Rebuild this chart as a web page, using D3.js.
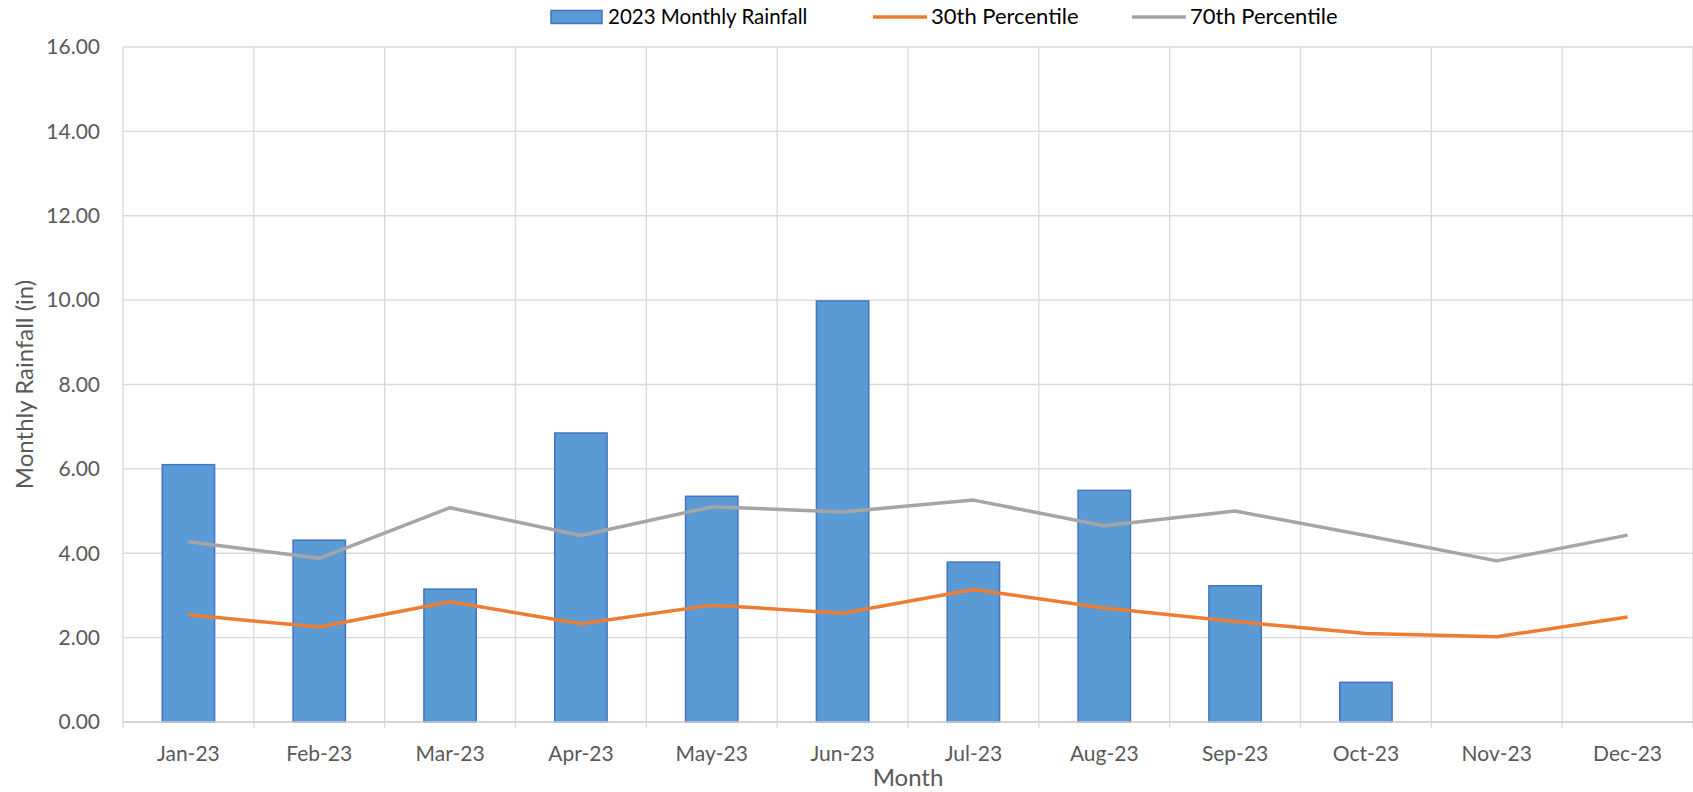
<!DOCTYPE html>
<html>
<head>
<meta charset="utf-8">
<script src="https://cdn.jsdelivr.net/npm/d3@7"></script>
<style>
  html, body { margin: 0; padding: 0; background: #fff; }
  svg { display: block; font-family: Lato, "Open Sans", sans-serif; }
</style>
</head>
<body>
<svg></svg>
<script>
// chart data
var months = ['Jan-23', 'Feb-23', 'Mar-23', 'Apr-23', 'May-23', 'Jun-23',
              'Jul-23', 'Aug-23', 'Sep-23', 'Oct-23', 'Nov-23', 'Dec-23'];
var rainfall = [6.10, 4.31, 3.15, 6.85, 5.35, 9.98, 3.79, 5.49, 3.23, 0.94, null, null];
var pct30 = [2.54, 2.25, 2.85, 2.33, 2.77, 2.58, 3.14, 2.70, 2.38, 2.10, 2.02, 2.49];
var pct70 = [4.27, 3.88, 5.08, 4.42, 5.10, 4.98, 5.26, 4.65, 5.00, 4.42, 3.82, 4.43];
var yTicks = [0, 2, 4, 6, 8, 10, 12, 14, 16];
var seriesNames = ['2023 Monthly Rainfall', '30th Percentile', '70th Percentile'];

var unit = {width: 1693, height: 792};
var m = {left: 123, right: 0, top: 47, bottom: 70};
var w = unit.width - m.left - m.right;
var h = unit.height - m.top - m.bottom;

var svg = d3.select('svg')
    .attr('width', unit.width)
    .attr('height', unit.height);

var g = svg.append('g')
    .attr('transform', 'translate(' + m.left + ',' + m.top + ')');

var x = d3.scaleBand().domain(months).range([0, w])
    .paddingInner(0.6).paddingOuter(0.3);
var xCell = d3.scaleBand().domain(months).range([0, w]).padding(0);
var y = d3.scaleLinear().domain([0, 16]).range([h, 0]);

// gridlines
g.append('g')
  .selectAll('line')
  .data(yTicks)
  .enter()
  .append('line')
  .attr('x1', 0).attr('x2', w)
  .attr('y1', (d) => y(d)).attr('y2', (d) => y(d))
  .attr('stroke', '#d9d9d9')
  .attr('stroke-width', 1.3);

var bounds = months.map((d) => xCell(d)).concat([w]);
g.append('g')
  .selectAll('line')
  .data(bounds)
  .enter()
  .append('line')
  .attr('x1', (d) => d).attr('x2', (d) => d)
  .attr('y1', 0).attr('y2', h + 6)
  .attr('stroke', '#d9d9d9')
  .attr('stroke-width', 1.3);

// y tick labels
g.append('g')
  .selectAll('text')
  .data(yTicks)
  .enter()
  .append('text')
  .attr('x', -23)
  .attr('y', (d) => y(d))
  .attr('dy', '0.35em')
  .attr('text-anchor', 'end')
  .attr('fill', '#595959')
  .style('font-size', '21px')
  .text((d) => d.toFixed(2));

// x tick labels
g.append('g')
  .selectAll('text')
  .data(months)
  .enter()
  .append('text')
  .attr('x', (d) => xCell(d) + xCell.bandwidth() / 2)
  .attr('y', h + 39)
  .attr('text-anchor', 'middle')
  .attr('fill', '#595959')
  .style('font-size', '21px')
  .text((d) => d);

// bars
g.append('g')
  .selectAll('rect')
  .data(months.map((d, i) => ({month: d, value: rainfall[i]})).filter((d) => d.value != null))
  .enter()
  .append('rect')
  .attr('x', (d) => x(d.month))
  .attr('width', x.bandwidth())
  .attr('y', (d) => y(d.value))
  .attr('height', (d) => y(0) - y(d.value))
  .attr('fill', '#5b9bd5')
  .attr('stroke', '#4472c4')
  .attr('stroke-width', 1.5);

// bottom axis line
g.append('line')
  .attr('x1', 0).attr('x2', w)
  .attr('y1', h).attr('y2', h)
  .attr('stroke', '#d0d0d0')
  .attr('stroke-width', 1.5);

// percentile lines
var line = d3.line()
    .x((d, i) => x(months[i]) + x.bandwidth() / 2)
    .y((d) => y(d));

g.append('path')
  .datum(pct70)
  .attr('d', line)
  .attr('fill', 'none')
  .attr('stroke', '#a5a5a5')
  .attr('stroke-width', 3.5)
  .attr('stroke-linejoin', 'round');

g.append('path')
  .datum(pct30)
  .attr('d', line)
  .attr('fill', 'none')
  .attr('stroke', '#ed7d31')
  .attr('stroke-width', 3.5)
  .attr('stroke-linejoin', 'round');

// axis titles
svg.append('text')
  .attr('x', m.left + w / 2)
  .attr('y', 786)
  .attr('text-anchor', 'middle')
  .attr('fill', '#595959')
  .style('font-size', '24px')
  .text('Month');

svg.append('text')
  .attr('transform', 'translate(33,' + (m.top + h / 2) + ')rotate(-90)')
  .attr('text-anchor', 'middle')
  .attr('fill', '#595959')
  .style('font-size', '24px')
  .text('Monthly Rainfall (in)');

// legend
var legend = svg.append('g');
var legendX = [551, 873, 1132];
var legendKind = ['rect', 'line', 'line'];
var legendColor = ['#5b9bd5', '#ed7d31', '#a5a5a5'];

seriesNames.forEach(function(name, i){
  var item = legend.append('g').attr('transform', 'translate(' + legendX[i] + ',0)');
  if (legendKind[i] == 'rect') {
    item.append('rect')
      .attr('x', 0).attr('y', 10.5)
      .attr('width', 51).attr('height', 13)
      .attr('fill', legendColor[i])
      .attr('stroke', '#4472c4')
      .attr('stroke-width', 1.5);
  } else {
    item.append('line')
      .attr('x1', 0).attr('x2', 54)
      .attr('y1', 17).attr('y2', 17)
      .attr('stroke', legendColor[i])
      .attr('stroke-width', 3.5);
  }
  item.append('text')
    .attr('x', i == 0 ? 57 : 58)
    .attr('y', 24)
    .attr('fill', '#000')
    .style('font-size', i == 0 ? '20.5px' : '22px')
    .text(name);
});
</script>
</body>
</html>
